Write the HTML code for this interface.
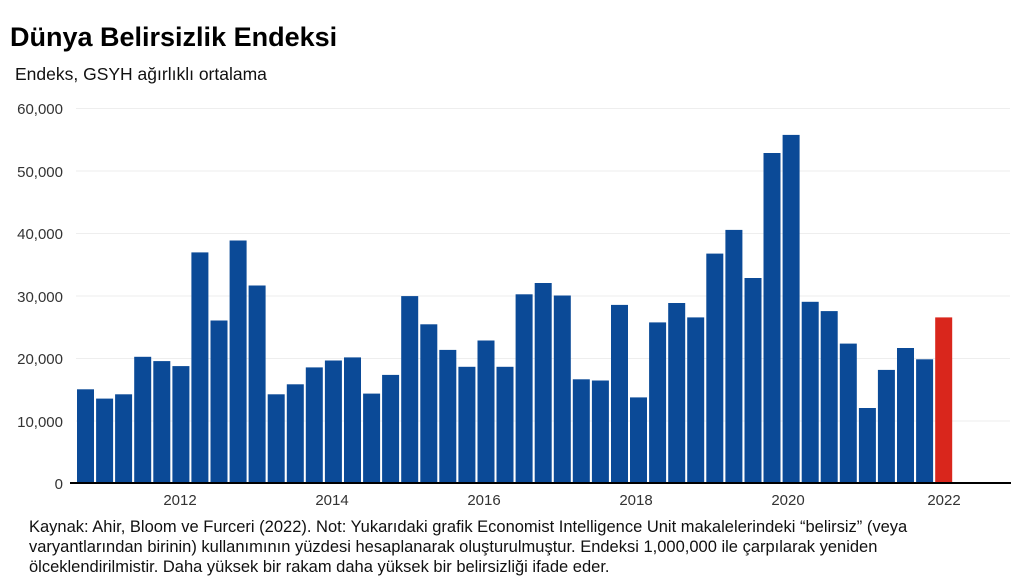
<!DOCTYPE html><html><head><meta charset="utf-8"><style>body{margin:0;background:#fff}svg{display:block}text{font-family:"Liberation Sans",sans-serif}</style></head><body>
<svg width="1020" height="578" xmlns="http://www.w3.org/2000/svg">
<text x="10" y="46" font-size="27" font-weight="bold" fill="#000">Dünya Belirsizlik Endeksi</text>
<text x="15" y="80" font-size="17.5" fill="#111">Endeks, GSYH ağırlıklı ortalama</text>
<g stroke="#eeeeee" stroke-width="1">
<line x1="76" x2="1010" y1="108.5" y2="108.5"/><line x1="76" x2="1010" y1="171" y2="171"/><line x1="76" x2="1010" y1="233.5" y2="233.5"/><line x1="76" x2="1010" y1="296" y2="296"/><line x1="76" x2="1010" y1="358.5" y2="358.5"/><line x1="76" x2="1010" y1="421" y2="421"/></g>
<g font-size="15" fill="#333" text-anchor="end">
<text x="63" y="114">60,000</text><text x="63" y="177">50,000</text><text x="63" y="239">40,000</text><text x="63" y="302">30,000</text><text x="63" y="364">20,000</text><text x="63" y="427">10,000</text><text x="63" y="489">0</text></g>
<g fill="#0b4a97">
<rect x="77.0" y="389.3" width="17" height="93.7"/>
<rect x="96.1" y="398.6" width="17" height="84.4"/>
<rect x="115.1" y="394.3" width="17" height="88.7"/>
<rect x="134.2" y="356.8" width="17" height="126.2"/>
<rect x="153.3" y="361.1" width="17" height="121.9"/>
<rect x="172.4" y="366.1" width="17" height="116.9"/>
<rect x="191.4" y="252.4" width="17" height="230.6"/>
<rect x="210.5" y="320.5" width="17" height="162.5"/>
<rect x="229.6" y="240.5" width="17" height="242.5"/>
<rect x="248.6" y="285.5" width="17" height="197.5"/>
<rect x="267.7" y="394.3" width="17" height="88.7"/>
<rect x="286.8" y="384.3" width="17" height="98.7"/>
<rect x="305.8" y="367.4" width="17" height="115.6"/>
<rect x="324.9" y="360.5" width="17" height="122.5"/>
<rect x="344.0" y="357.4" width="17" height="125.6"/>
<rect x="363.1" y="393.6" width="17" height="89.4"/>
<rect x="382.1" y="374.9" width="17" height="108.1"/>
<rect x="401.2" y="296.1" width="17" height="186.9"/>
<rect x="420.3" y="324.3" width="17" height="158.7"/>
<rect x="439.3" y="349.9" width="17" height="133.1"/>
<rect x="458.4" y="366.8" width="17" height="116.2"/>
<rect x="477.5" y="340.5" width="17" height="142.5"/>
<rect x="496.5" y="366.8" width="17" height="116.2"/>
<rect x="515.6" y="294.3" width="17" height="188.7"/>
<rect x="534.7" y="283.0" width="17" height="200.0"/>
<rect x="553.8" y="295.5" width="17" height="187.5"/>
<rect x="572.8" y="379.3" width="17" height="103.7"/>
<rect x="591.9" y="380.5" width="17" height="102.5"/>
<rect x="611.0" y="304.9" width="17" height="178.1"/>
<rect x="630.0" y="397.4" width="17" height="85.6"/>
<rect x="649.1" y="322.4" width="17" height="160.6"/>
<rect x="668.2" y="303.0" width="17" height="180.0"/>
<rect x="687.2" y="317.4" width="17" height="165.6"/>
<rect x="706.3" y="253.6" width="17" height="229.4"/>
<rect x="725.4" y="229.9" width="17" height="253.1"/>
<rect x="744.5" y="278.0" width="17" height="205.0"/>
<rect x="763.5" y="153.0" width="17" height="330.0"/>
<rect x="782.6" y="134.9" width="17" height="348.1"/>
<rect x="801.7" y="301.8" width="17" height="181.2"/>
<rect x="820.7" y="311.1" width="17" height="171.9"/>
<rect x="839.8" y="343.6" width="17" height="139.4"/>
<rect x="858.9" y="408.0" width="17" height="75.0"/>
<rect x="877.9" y="369.9" width="17" height="113.1"/>
<rect x="897.0" y="348.0" width="17" height="135.0"/>
<rect x="916.1" y="359.3" width="17" height="123.7"/>
</g>
<rect x="935.2" y="317.4" width="17" height="165.6" fill="#d9261c"/>
<line x1="70" x2="1011" y1="483" y2="483" stroke="#000" stroke-width="2"/>
<g font-size="15" fill="#333" text-anchor="middle">
<text x="180" y="505">2012</text><text x="332" y="505">2014</text><text x="484" y="505">2016</text><text x="636" y="505">2018</text><text x="788" y="505">2020</text><text x="944" y="505">2022</text></g>
<g font-size="16.5" fill="#111">
<text x="29" y="532">Kaynak: Ahir, Bloom ve Furceri (2022). Not: Yukarıdaki grafik Economist Intelligence Unit makalelerindeki “belirsiz” (veya</text>
<text x="29" y="552">varyantlarından birinin) kullanımının yüzdesi hesaplanarak oluşturulmuştur. Endeksi 1,000,000 ile çarpılarak yeniden</text>
<text x="29" y="572">ölceklendirilmistir. Daha yüksek bir rakam daha yüksek bir belirsizliği ifade eder.</text></g>
</svg></body></html>
